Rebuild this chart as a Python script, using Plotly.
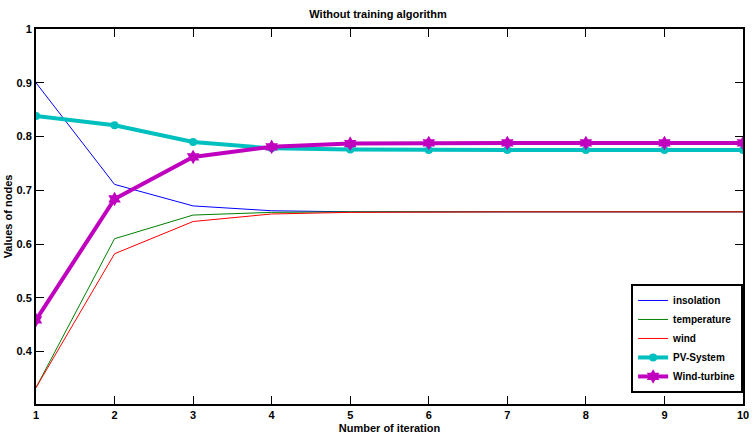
import plotly.graph_objects as go

iterations = [1, 2, 3, 4, 5, 6, 7, 8, 9, 10]
insolation = [0.900, 0.711, 0.671, 0.662, 0.660, 0.660, 0.660, 0.660, 0.660, 0.660]
temperature = [0.333, 0.610, 0.654, 0.659, 0.660, 0.660, 0.660, 0.660, 0.660, 0.660]
wind = [0.333, 0.582, 0.642, 0.656, 0.659, 0.660, 0.660, 0.660, 0.660, 0.660]
pv_system = [0.838, 0.821, 0.790, 0.778, 0.776, 0.775, 0.775, 0.775, 0.775, 0.775]
wind_turbine = [0.459, 0.684, 0.762, 0.781, 0.787, 0.788, 0.788, 0.788, 0.788, 0.788]
y_ticks = [0.4, 0.5, 0.6, 0.7, 0.8, 0.9, 1]
y_tick_labels = ["0.4", "0.5", "0.6", "0.7", "0.8", "0.9", "1"]

FONT = "Liberation Sans Narrow, Arial Narrow, Liberation Sans, Arial"

fig = go.Figure()
fig.add_trace(go.Scatter(x=iterations, y=insolation, mode="lines", name="insolation",
                         line=dict(color="#0000FF", width=1)))
fig.add_trace(go.Scatter(x=iterations, y=temperature, mode="lines", name="temperature",
                         line=dict(color="#008000", width=1)))
fig.add_trace(go.Scatter(x=iterations, y=wind, mode="lines", name="wind",
                         line=dict(color="#FF0000", width=1)))
fig.add_trace(go.Scatter(x=iterations, y=pv_system, mode="lines+markers", name="PV-System",
                         line=dict(color="#00BFBF", width=4),
                         marker=dict(symbol="circle", size=8, color="#00BFBF")))
fig.add_trace(go.Scatter(x=iterations, y=wind_turbine, mode="lines+markers", name="Wind-turbine",
                         line=dict(color="#BF00BF", width=4),
                         marker=dict(symbol="hexagram", size=11, color="#BF00BF")))

fig.update_layout(
    width=756, height=440,
    paper_bgcolor="white", plot_bgcolor="white",
    margin=dict(l=35, r=7, t=29, b=33),
    font=dict(family=FONT, size=11, color="black", weight="bold"),
    title=dict(text="Without training algorithm", x=0.5, xanchor="center",
               y=1 - 14/440, yanchor="middle",
               font=dict(family=FONT, size=11, color="black", weight="bold")),
    showlegend=True,
    legend=dict(x=(636-35)/714, xanchor="left", y=(407-286)/378, yanchor="top",
                bgcolor="white", bordercolor="black", borderwidth=2,
                font=dict(family=FONT, size=10, color="black", weight="bold"),
                tracegroupgap=0, itemwidth=30),
)
fig.update_xaxes(
    range=[1, 10], tickvals=iterations, ticktext=[str(i) for i in iterations],
    showgrid=False, zeroline=False,
    showline=True, linecolor="black", linewidth=2, mirror="ticks",
    ticks="inside", ticklen=8, tickwidth=1, tickcolor="black",
    title=dict(text="Number of iteration", standoff=4,
               font=dict(family=FONT, size=11, color="black", weight="bold")),
)
fig.update_yaxes(
    range=[0.3026, 1], tickvals=y_ticks, ticktext=y_tick_labels,
    showgrid=False, zeroline=False,
    showline=True, linecolor="black", linewidth=2, mirror="ticks",
    ticks="inside", ticklen=8, tickwidth=1, tickcolor="black",
    title=dict(text="Values of nodes", standoff=2,
               font=dict(family=FONT, size=11, color="black", weight="bold")),
)

fig.write_html("out.html")
